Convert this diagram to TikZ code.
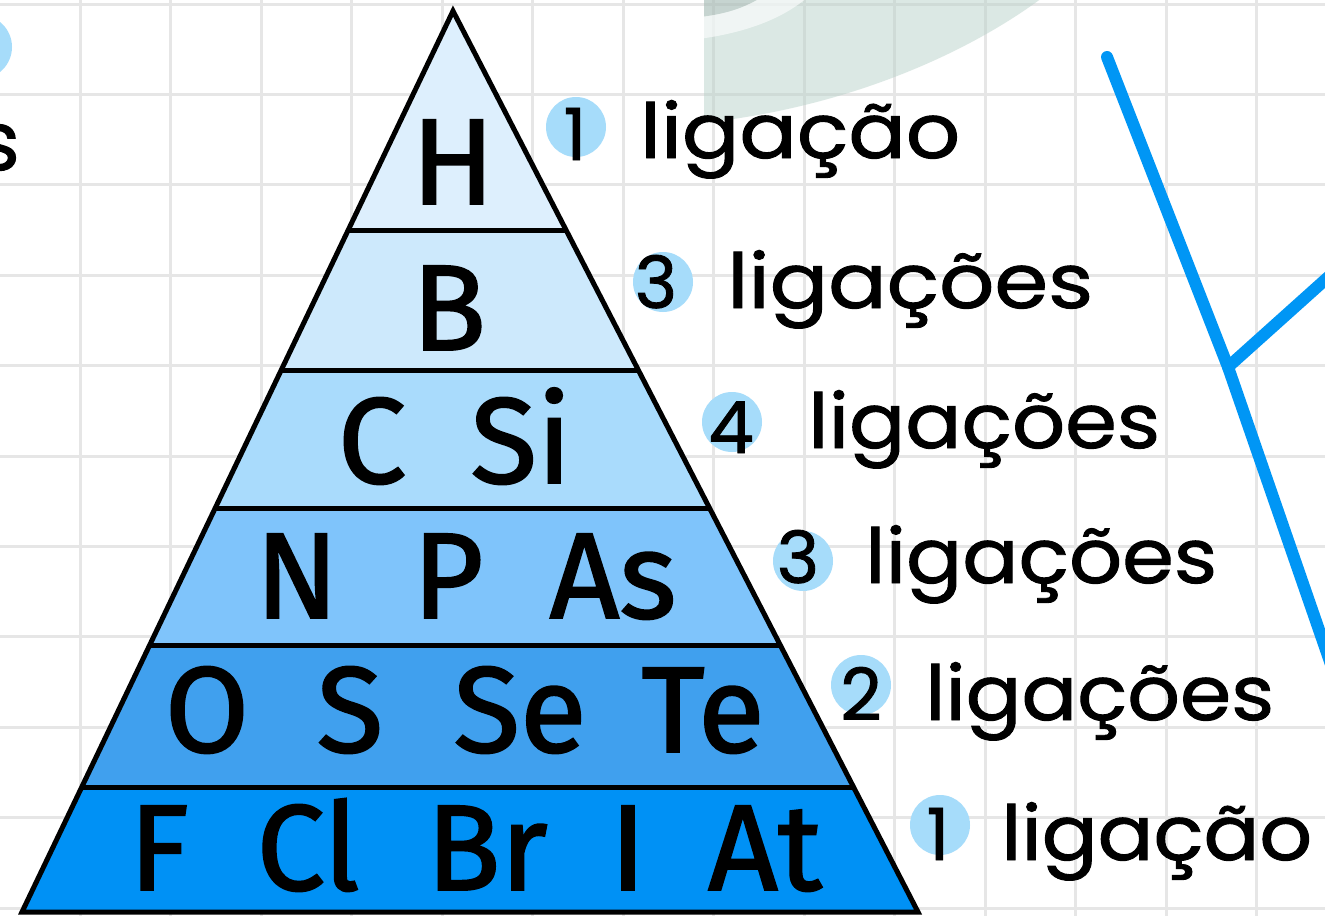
\documentclass[tikz,border=0pt]{standalone}
\usepackage{fontspec}
\usepackage{graphicx}
\newfontfamily\pyrfont[FakeBold=1.6]{Fira Sans}
\newfontfamily\handfont[FakeBold=1.2]{Poppins}
\definecolor{gridgray}{HTML}{E6E6E6}
\definecolor{bandA}{HTML}{DDEFFD}
\definecolor{bandB}{HTML}{CDE9FC}
\definecolor{bandC}{HTML}{A9DBFC}
\definecolor{bandD}{HTML}{7FC4FB}
\definecolor{bandE}{HTML}{40A0EE}
\definecolor{bandF}{HTML}{0091F5}
\definecolor{circblue}{HTML}{A6DCFA}
\definecolor{lineblue}{HTML}{0096F5}
\definecolor{wmgreen}{HTML}{B9D2CA}
\definecolor{wmgray}{HTML}{9FB0AB}
\tikzset{
  gridline/.style={draw=gridgray, line width=3pt},
  elem/.style={inner sep=0pt, anchor=base, font=\pyrfont\fontsize{122pt}{122pt}\selectfont},
  hand/.style={inner sep=0pt, anchor=base west, font=\handfont\fontsize{76pt}{76pt}\selectfont},
  digit/.style={inner sep=0pt, anchor=base, font=\handfont\fontsize{72pt}{72pt}\selectfont},
  numdot/.style={fill=circblue},
  outline/.style={draw=black, line width=5pt, line join=miter},
  divider/.style={draw=black, line width=5pt},
  bluestroke/.style={draw=lineblue, line width=12pt, line cap=round, line join=round}
}
\begin{document}
\begin{tikzpicture}[x=1pt,y=-1pt]
\useasboundingbox (0,0) rectangle (1325,916);
\fill[white] (0,0) rectangle (1325,916);
% grid
\foreach \k in {0,...,13} \draw[gridline] ({80+90.5*\k},0) -- ({80+90.5*\k},916);
\foreach \k in {0,...,10} \draw[gridline] (0,{4+90.4*\k}) -- (1325,{4+90.4*\k});
% watermark
\begin{scope}
  \clip (704,0) rectangle (1325,916);
  \fill[wmgreen, fill opacity=0.5] (690,-5) -- (1046,-5) .. controls (960,60) and (830,112) .. (690,124) -- cycle;
  \fill[white, fill opacity=0.6] (690,40) .. controls (745,34) and (785,18) .. (810,-5) -- (765,-5) .. controls (745,8) and (725,15) .. (690,18) -- cycle;
  \fill[wmgray, fill opacity=0.35] (690,18) .. controls (725,15) and (745,8) .. (765,-5) -- (690,-5) -- cycle;
\end{scope}
% top-left remnants
\fill[numdot] (-20,47) circle[radius=32pt];
\node[hand, anchor=base east, font=\handfont\fontsize{82pt}{82pt}\selectfont] (sleft) at (20,170) {s};
% pyramid
\coordinate (apex) at (453,11);
\coordinate (bl) at (22,912);
\coordinate (br) at (918,912);
\begin{scope}
  \clip (apex) -- (br) -- (bl) -- cycle;
  \fill[bandA] (0,0) rectangle (1000,230);
  \fill[bandB] (0,230) rectangle (1000,370);
  \fill[bandC] (0,370) rectangle (1000,508);
  \fill[bandD] (0,508) rectangle (1000,645);
  \fill[bandE] (0,645) rectangle (1000,787);
  \fill[bandF] (0,787) rectangle (1000,920);
  \draw[divider] (0,230) -- (1000,230);
  \draw[divider] (0,370) -- (1000,370);
  \draw[divider] (0,508) -- (1000,508);
  \draw[divider] (0,645) -- (1000,645);
  \draw[divider] (0,787) -- (1000,787);
\end{scope}
\draw[outline] (apex) -- (br) -- (bl) -- cycle;
% elements
\node[elem] (nH) at (453,204) {H};
\node[elem] (nB) at (449,350) {B};
\node[elem] (nC) at (372,483) {C};
\node[elem] (nSi) at (521,483) {Si};
\node[elem] (nN) at (297,618) {N};
\node[elem] (nP) at (448,618) {P};
\node[elem] (nAs) at (613,618) {As};
\node[elem] (nO) at (207,752) {O};
\node[elem] (nS) at (350,752) {S};
\node[elem] (nSe) at (520,752) {Se};
\node[elem] (nTe) at (703,752) {Te};
\node[elem] (nF) at (159,890) {F};
\node[elem] (nCl) at (308,890) {Cl};
\node[elem] (nBr) at (487,890) {Br};
\node[elem] (nI) at (628,890) {I};
\node[elem] (nAt) at (765,890) {At};
% number dots
\fill[numdot] (576,127) circle[radius=30pt];
\fill[numdot] (663,282) circle[radius=30pt];
\fill[numdot] (732,422) circle[radius=30pt];
\fill[numdot] (803,561) circle[radius=30pt];
\fill[numdot] (861,685) circle[radius=30pt];
\fill[numdot] (940,825) circle[radius=30pt];
\node[digit] (d1) at (575,160) {1};
\node[digit] (d2) at (656,308) {3};
\node[digit] (d3) at (731,453) {4};
\node[digit] (d4) at (798,583) {3};
\node[digit] (d5) at (861,720) {2};
\node[digit] (d6) at (938,860) {1};
% labels
\node[hand] (l1) at (640,158) {\resizebox{320pt}{\height}{ligação}};
\node[hand] (l2) at (727,308) {\resizebox{366pt}{\height}{ligações}};
\node[hand] (l3) at (808,448) {\resizebox{352pt}{\height}{ligações}};
\node[hand] (l4) at (865,583) {\resizebox{352pt}{\height}{ligações}};
\node[hand] (l5) at (925,720) {\resizebox{349pt}{\height}{ligações}};
\node[hand] (l6) at (1001,860) {\resizebox{311pt}{\height}{ligação}};
% blue stroke at right
\coordinate (bTop) at (1107,57);
\coordinate (bJoin) at (1228,367);
\coordinate (bEnd) at (1345,705);
\coordinate (bBranch) at (1345,262);
\draw[bluestroke] (bTop) -- (bJoin) -- (bEnd);
\draw[bluestroke] (bJoin) -- (bBranch);
\end{tikzpicture}
\end{document}
